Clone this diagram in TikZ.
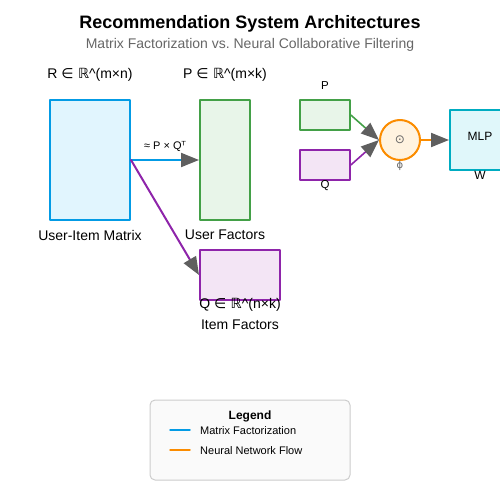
\documentclass[tikz,border=0pt]{standalone}
\usepackage{fontspec}
\setmainfont{Liberation Sans}
\newfontfamily\symfont{DejaVu Sans}
\usepackage{xcolor}
\usetikzlibrary{arrows.meta,positioning}
\definecolor{mfblue}{HTML}{039BE5}
\definecolor{mfbluefill}{HTML}{E1F5FE}
\definecolor{ufgreen}{HTML}{43A047}
\definecolor{ufgreenfill}{HTML}{E8F5E9}
\definecolor{ifpurple}{HTML}{8E24AA}
\definecolor{ifpurplefill}{HTML}{F3E5F5}
\definecolor{nnorange}{HTML}{FB8C00}
\definecolor{nnorangefill}{HTML}{FFF3E0}
\definecolor{mlpteal}{HTML}{00ACC1}
\definecolor{mlptealfill}{HTML}{E0F7FA}
\definecolor{tipgray}{HTML}{5F5F5F}
\definecolor{subgray}{HTML}{666666}
\definecolor{legendfill}{HTML}{FAFAFA}
\definecolor{legendline}{HTML}{CCCCCC}

\begin{document}
\begin{tikzpicture}
    [line cap=round,line join=round,x=1pt,y=-1pt,
     box/.style={draw,line width=2pt,inner sep=0pt},
     lbl/.style={font=\fontsize{14}{16}\selectfont,inner sep=0pt},
     small/.style={font=\fontsize{11.5}{13}\selectfont,inner sep=0pt},
     tip/.style={-{Triangle[length=18pt,width=14pt,color=tipgray]}}]
\useasboundingbox (0,0) rectangle (500,500);
%titles
\node[font=\bfseries\fontsize{18}{20}\selectfont] (title) at (250,24) {Recommendation System Architectures};
\node[font=\fontsize{14}{16}\selectfont,inner sep=0pt,text=subgray] (subtitle) at (250,45) {Matrix Factorization vs.\ Neural Collaborative Filtering};

%matrix factorization part
\node[box,draw=mfblue,fill=mfbluefill,minimum width=80,minimum height=120] (R) at (90,160) {};
\node[lbl] (Rlabel) at (90,75) {R {\symfont ∈ ℝ}\textasciicircum(m×n)};
\node[lbl] (Rname) at (90,235) {User-Item Matrix};

\node[box,draw=ufgreen,fill=ufgreenfill,minimum width=50,minimum height=120] (P) at (225,160) {};
\node[lbl] (Plabel) at (225,75) {P {\symfont ∈ ℝ}\textasciicircum(m×k)};
\node[lbl] (Pname) at (225,235) {User Factors};

\node[box,draw=ifpurple,fill=ifpurplefill,minimum width=80,minimum height=50] (Q) at (240,275) {};
\node[lbl] (Qlabel) at (240,305) {Q {\symfont ∈ ℝ}\textasciicircum(n×k)};
\node[lbl] (Qname) at (240,325) {Item Factors};

\draw[mfblue,line width=2pt,tip] (R.east) -- (P.west)
    node [midway,above=7pt,text=black,inner sep=0pt,font=\fontsize{11}{13}\selectfont] (approx) {≈ P × Q{\symfont ᵀ}};
\draw[ifpurple,line width=2pt,tip] (R.east) -- (Q.west);

%neural collaborative filtering part
\node[box,draw=ufgreen,fill=ufgreenfill,minimum width=50,minimum height=30,line width=1.6pt] (pvec) at (325,115) {};
\node[small] (pveclabel) at (325,86) {P};
\node[box,draw=ifpurple,fill=ifpurplefill,minimum width=50,minimum height=30,line width=1.6pt] (qvec) at (325,165) {};
\node[small] (qveclabel) at (325,186) {Q};

\node[circle,draw=nnorange,fill=nnorangefill,line width=2pt,minimum size=40,inner sep=0pt,text=subgray,font=\symfont\fontsize{12}{14}\selectfont] (gmf) at (400,140) {⊙};
\node[small,text=subgray,font=\symfont\fontsize{10}{12}\selectfont] (gmflabel) at (400,166) {ϕ};

\node[box,draw=mlpteal,fill=mlptealfill,minimum width=60,minimum height=60] (mlp) at (480,140) {};
\node[small,font=\fontsize{12}{14}\selectfont] (mlptext) at (480,136) {MLP};
\node[small,font=\fontsize{12}{14}\selectfont] (mlpW) at (480,175) {W};

\draw[ufgreen,line width=1.6pt,tip] (pvec.east) -- (gmf.west);
\draw[ifpurple,line width=1.6pt,tip] (qvec.east) -- (gmf.west);
\draw[nnorange,line width=2pt,tip] (gmf.east) -- (mlp.west);

%legend
\node[draw=legendline,fill=legendfill,rounded corners=5pt,line width=1pt,minimum width=200,minimum height=80] (legend) at (250,440) {};
\node[font=\bfseries\fontsize{12}{14}\selectfont] (legendtitle) at (250,416) {Legend};
\coordinate (mfa) at (170,430);
\coordinate (mfb) at (190,430);
\coordinate (nna) at (170,450);
\coordinate (nnb) at (190,450);
\draw[mfblue,line width=1.5pt] (mfa) -- (mfb);
\draw[nnorange,line width=1.5pt] (nna) -- (nnb);
\node[anchor=west,inner sep=0pt,font=\fontsize{11}{12}\selectfont] (mftext) at (200,431) {Matrix Factorization};
\node[anchor=west,inner sep=0pt,font=\fontsize{11}{12}\selectfont] (nntext) at (200,451) {Neural Network Flow};
\end{tikzpicture}
\end{document}
